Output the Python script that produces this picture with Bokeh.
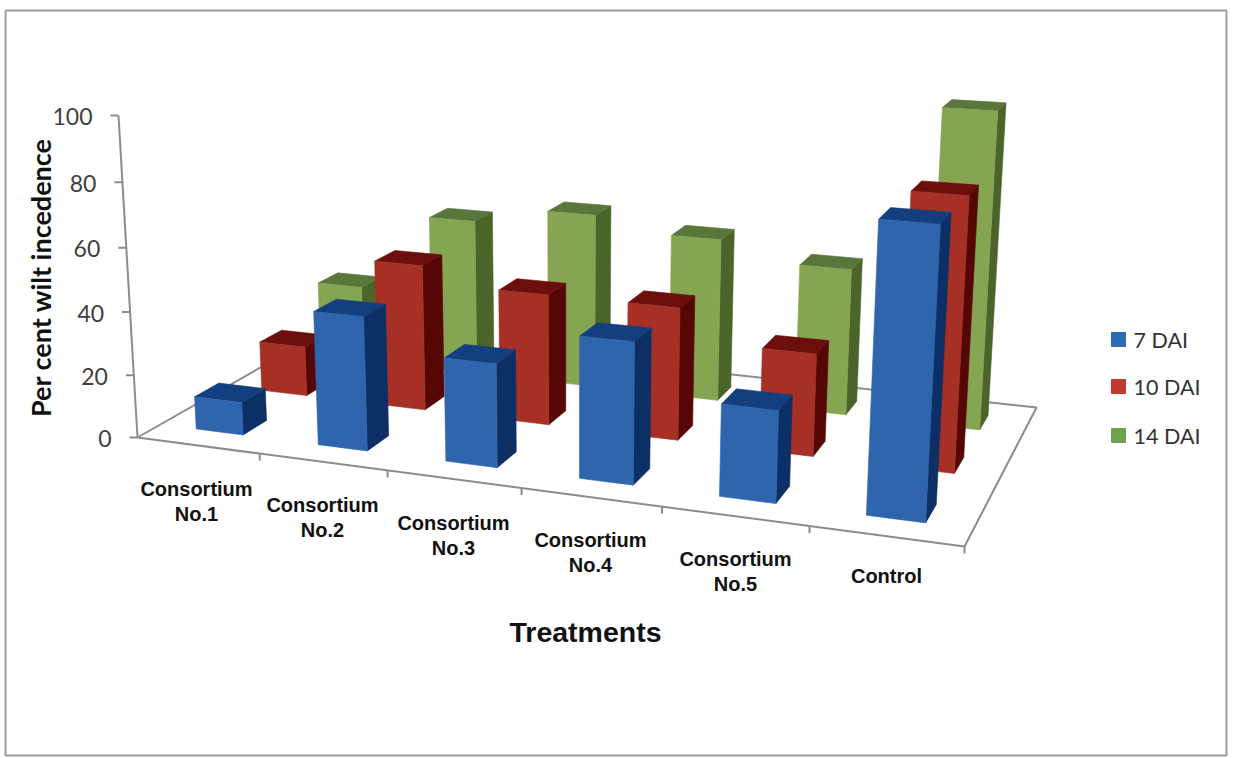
from bokeh.core.properties import value
from bokeh.embed import file_html
from bokeh.models import ColumnDataSource
from bokeh.plotting import figure
from bokeh.resources import INLINE

# Chart data
categories = ["Consortium\nNo.1", "Consortium\nNo.2", "Consortium\nNo.3",
              "Consortium\nNo.4", "Consortium\nNo.5", "Control"]
series_names = ["7 DAI", "10 DAI", "14 DAI"]
dai_7 = [10.5, 42, 32, 43, 27.5, 84]
dai_10 = [16.5, 47.5, 42, 42, 32, 83]
dai_14 = [26, 52.5, 58, 53.5, 47.5, 100]
value_ticks = [0, 20, 40, 60, 80, 100]

# Face colours per series: front, top, side
front_colors = ["#2F65AC", "#A63026", "#86A553"]
top_colors = ["#143F7E", "#6C0F0C", "#5B763A"]
side_colors = ["#0C2F66", "#560605", "#4A6429"]
legend_colors = ["#2C6BB4", "#BE3B30", "#6FA24F"]

# Homogeneous camera: category fraction u, depth fraction v, value fraction t
CAM_X = (698.8, 245.3, -24.0, 137.0)
CAM_Y = (36.4, -48.7, -326.9, 437.0)
CAM_W = (-0.133, 0.1765, -0.0423, 1.0)

BAR_START, BAR_END = 0.30, 0.69     # bar extent inside a category
DEPTH_START, DEPTH_END = 0.32, 0.675  # bar extent inside a series row


def project(u, v, t):
    w = CAM_W[0] * u + CAM_W[1] * v + CAM_W[2] * t + CAM_W[3]
    x = (CAM_X[0] * u + CAM_X[1] * v + CAM_X[2] * t + CAM_X[3]) / w
    y = (CAM_Y[0] * u + CAM_Y[1] * v + CAM_Y[2] * t + CAM_Y[3]) / w
    return x, y


def face(points):
    pts = [project(*pt) for pt in points]
    return [pt[0] for pt in pts], [pt[1] for pt in pts]


p = figure(width=1236, height=758, x_range=(0, 1236), y_range=(758, 0),
           output_backend="svg", toolbar_location=None, min_border=0,
           background_fill_color="white", border_fill_color="white")
p.axis.visible = False
p.grid.visible = False
p.outline_line_color = None

# Chart frame
p.line([5, 1226, 1226, 5, 5], [10, 10, 755, 755, 10], line_color="#9C9C9C", line_width=2)

# Floor outline
AXIS = "#8C8C8C"
fx, fy = face([(0, 0, 0), (1, 0, 0), (1, 1, 0), (0, 1, 0), (0, 0, 0)])
p.line(fx, fy, line_color=AXIS, line_width=2)

# Category ticks hanging from the front edge
n_cat = len(categories)
for k in range(1, n_cat + 1):
    x, y = project(k / n_cat, 0, 0)
    p.line([x, x], [y, y + 7], line_color=AXIS, line_width=2)

# Value axis with its ticks and labels
ax, ay = face([(0, 0, 0), (0, 0, 1)])
p.line(ax, ay, line_color=AXIS, line_width=2)
for tick in value_ticks:
    x, y = project(0, 0, tick / 100)
    p.line([x - 8, x], [y, y], line_color=AXIS, line_width=2)
    p.text([x - 26], [y + 1], text=[str(tick)], text_font=value("Lato"), text_font_size="23px",
           text_color="#404040", text_align="right", text_baseline="middle")

# Bars, back row first and left to right inside a row
series_values = [dai_7, dai_10, dai_14]
n_series = len(series_values)
for s in reversed(range(n_series)):
    xs, ys, colors = [], [], []
    for k, val in enumerate(series_values[s]):
        u0, u1 = (k + BAR_START) / n_cat, (k + BAR_END) / n_cat
        v0, v1 = (s + DEPTH_START) / n_series, (s + DEPTH_END) / n_series
        t = val / 100
        faces = [
            ([(u1, v0, 0), (u1, v1, 0), (u1, v1, t), (u1, v0, t)], side_colors[s]),
            ([(u0, v0, t), (u1, v0, t), (u1, v1, t), (u0, v1, t)], top_colors[s]),
            ([(u0, v0, 0), (u1, v0, 0), (u1, v0, t), (u0, v0, t)], front_colors[s]),
        ]
        for pts, color in faces:
            fx, fy = face(pts)
            xs.append(fx)
            ys.append(fy)
            colors.append(color)
    src = ColumnDataSource(dict(xs=xs, ys=ys, color=colors))
    p.patches("xs", "ys", source=src, fill_color="color", line_color="color", line_width=0.6)

# Category labels
label_x = [196, 322, 453, 590, 735, 886]
label_y = [488, 504, 522, 539, 558, 575]
for cat, x, y in zip(categories, label_x, label_y):
    for i, line in enumerate(cat.split("\n")):
        p.text([x], [y + i * 25], text=[line], text_font=value("Liberation Sans"),
               text_font_style="bold", text_font_size="20px", text_color="#111111",
               text_align="center", text_baseline="middle")

# Axis titles
p.text([585], [631], text=["Treatments"], text_font=value("Liberation Sans"),
       text_font_style="bold", text_font_size="28.5px", text_color="#111111",
       text_align="center", text_baseline="middle")
p.text([40], [277], text=["Per cent wilt incedence"], angle=[1.5708], text_font=value("Lato"),
       text_font_style="bold", text_font_size="27px", text_color="#111111",
       text_align="center", text_baseline="middle")

# Legend
legend_y = [339, 386, 435]
for name, color, y in zip(series_names, legend_colors, legend_y):
    p.scatter([1118], [y], marker="square", size=14, fill_color=color, line_color=color)
    p.text([1133], [y], text=[name], text_font=value("Lato"), text_font_size="21.5px",
           text_color="#333333", text_align="left", text_baseline="middle")

open("out.html", "w").write(file_html(p, INLINE))
